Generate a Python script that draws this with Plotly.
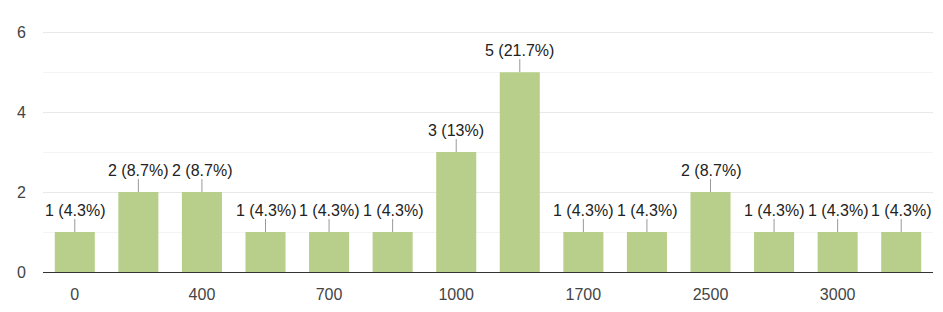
import plotly.graph_objects as go

categories = ["0", "200", "400", "500", "700", "800", "1000", "1500",
              "1700", "2000", "2500", "2800", "3000", "3500"]
counts = [1, 2, 2, 1, 1, 1, 3, 5, 1, 1, 2, 1, 1, 1]
shown_ticks = ["0", "400", "700", "1000", "1700", "2500", "3000"]
y_ticks = [0, 2, 4, 6]

total = sum(counts)


def pct(c):
    p = round(100 * c / total, 1)
    s = f"{p:.1f}"
    if s.endswith(".0"):
        s = s[:-2]
    return f"{c} ({s}%)"


fig = go.Figure()
fig.add_trace(go.Bar(
    x=categories, y=counts,
    marker=dict(color="#b7cf8a", line=dict(width=0)),
    width=0.63, hoverinfo="skip",
))

for i, c in enumerate(counts):
    fig.add_annotation(
        x=i, y=c, xref="x", yref="y",
        text=pct(c), showarrow=True, arrowhead=0, arrowwidth=1,
        arrowcolor="#999999", ax=0, ay=-22, standoff=0,
        font=dict(family="Liberation Sans, Arial", size=16, color="#222222"),
        borderpad=0,
    )

fig.update_layout(
    width=943, height=312,
    margin=dict(l=43, r=10, t=31, b=40),
    plot_bgcolor="white", paper_bgcolor="white",
    showlegend=False,
    font=dict(family="Liberation Sans, Arial", size=16, color="#444444"),
    bargap=0.37,
)
fig.update_xaxes(
    type="category", range=[-0.5, len(categories) - 0.5],
    tickmode="array", tickvals=shown_ticks, ticktext=shown_ticks,
    showgrid=False, showline=True, linecolor="#333333", linewidth=1,
    ticks="", ticklabelstandoff=8, fixedrange=True,
)
fig.update_yaxes(
    range=[0, max(y_ticks) * 1.005], tickmode="array", tickvals=y_ticks,
    showgrid=True, gridcolor="#e8e8e8", gridwidth=1,
    zeroline=False, ticks="", ticklabelstandoff=16,
    minor=dict(dtick=1, showgrid=True, gridcolor="#f4f4f4", gridwidth=1),
    fixedrange=True,
)

fig.write_html("out.html", config={"displayModeBar": False})
